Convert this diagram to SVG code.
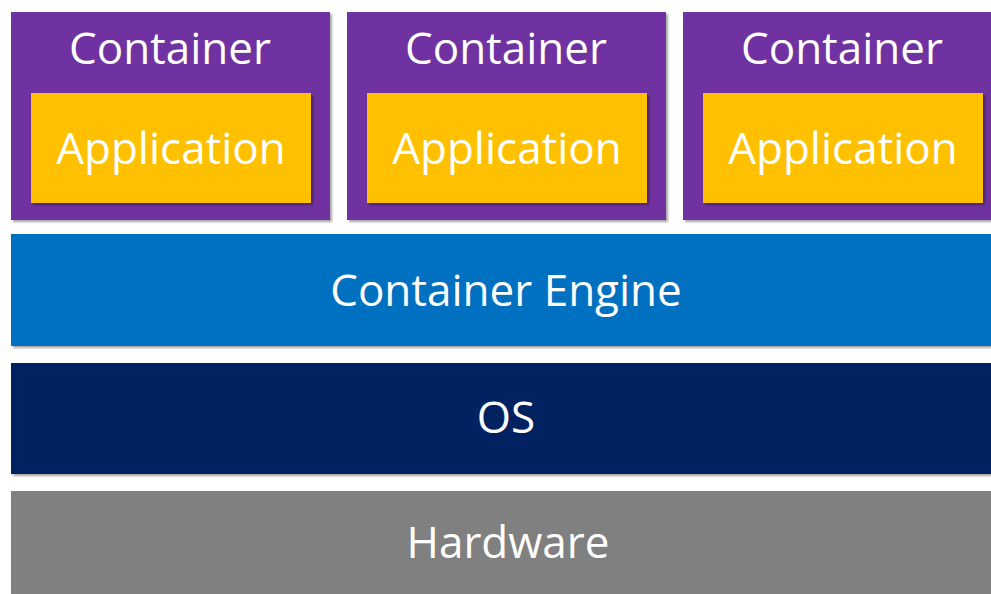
<svg xmlns="http://www.w3.org/2000/svg" width="991" height="594" viewBox="0 0 991 594">
  <defs>
    <filter id="shadow" x="-5%" y="-5%" width="110%" height="115%">
      <feDropShadow dx="2" dy="2" stdDeviation="1.2" flood-color="#000" flood-opacity="0.35"/>
    </filter>
    <style>
      .label { font-family: "Open Sans", "Noto Sans", "Liberation Sans", sans-serif; font-size: 44px; fill: #ffffff; text-anchor: middle; }
      .container { fill: #7030A0; filter: url(#shadow); }
      .app { fill: #FFC000; filter: url(#shadow); }
      .engine { fill: #0070C0; filter: url(#shadow); }
      .os { fill: #002060; filter: url(#shadow); }
      .hw { fill: #808080; filter: url(#shadow); }
    </style>
  </defs>
  <rect width="991" height="594" fill="#ffffff"/>

  <g id="container-1">
    <rect class="container" x="11" y="12" width="319" height="208"/>
    <text class="label" x="170" y="64">Container</text>
    <g id="application-1">
      <rect class="app" x="31" y="93" width="280" height="110"/>
      <text class="label" x="171" y="164">Application</text>
    </g>
  </g>

  <g id="container-2">
    <rect class="container" x="347" y="12" width="319" height="208"/>
    <text class="label" x="506" y="64">Container</text>
    <g id="application-2">
      <rect class="app" x="367" y="93" width="280" height="110"/>
      <text class="label" x="507" y="164">Application</text>
    </g>
  </g>

  <g id="container-3">
    <rect class="container" x="683" y="12" width="319" height="208"/>
    <text class="label" x="842" y="64">Container</text>
    <g id="application-3">
      <rect class="app" x="703" y="93" width="280" height="110"/>
      <text class="label" x="843" y="164">Application</text>
    </g>
  </g>

  <g id="container-engine">
    <rect class="engine" x="11" y="234" width="991" height="112"/>
    <text class="label" x="506" y="306">Container Engine</text>
  </g>

  <g id="os">
    <rect class="os" x="11" y="363" width="991" height="111"/>
    <text class="label" x="506" y="433">OS</text>
  </g>

  <g id="hardware">
    <rect class="hw" x="11" y="491" width="991" height="110"/>
    <text class="label" x="508" y="558">Hardware</text>
  </g>

  <g id="connectors"/>
</svg>
